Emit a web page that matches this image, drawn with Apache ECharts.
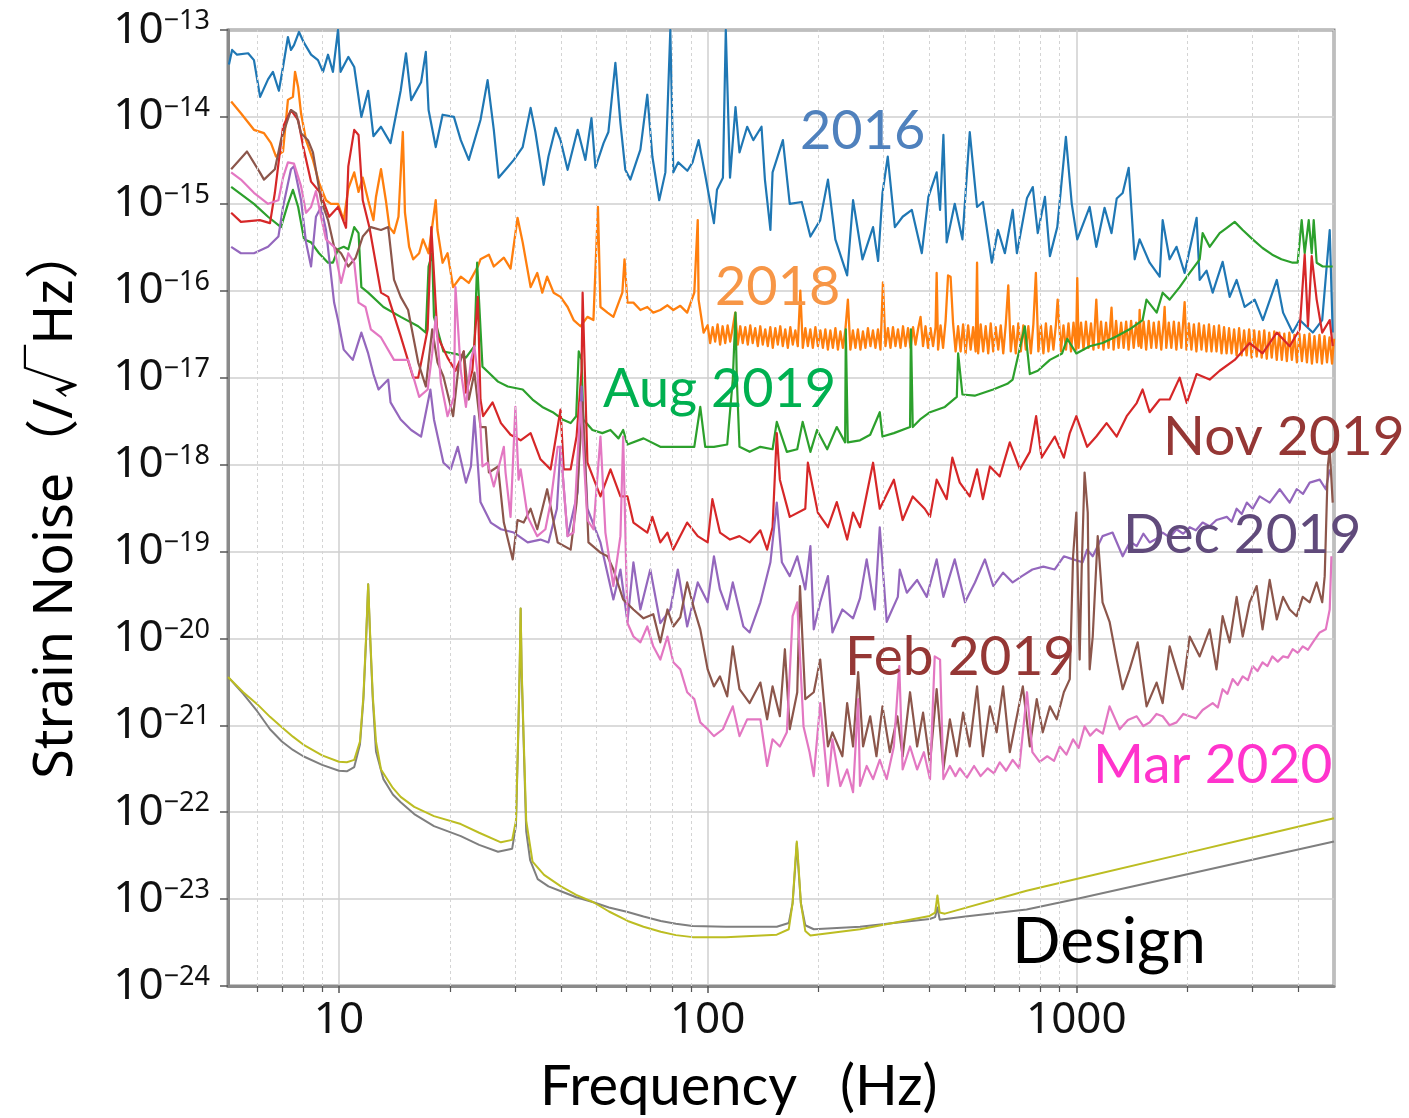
<!DOCTYPE html>
<html><head><meta charset="utf-8">
<script src="https://cdn.jsdelivr.net/npm/echarts/dist/echarts.min.js"></script>
<style>html,body{margin:0;padding:0;background:#fff}#c{width:1409px;height:1118px}</style>
</head><body><div id="c"></div>
<script>
// ---------- data (frequency Hz, strain 1/sqrt(Hz)) ----------
const xTickLabels = [10, 100, 1000];
const yTickValues = [1e-24, 1e-23, 1e-22, 1e-21, 1e-20, 1e-19, 1e-18, 1e-17, 1e-16, 1e-15, 1e-14, 1e-13];
const minorFreqs = [6,7,8,9,20,30,40,50,60,70,80,90,200,300,400,500,600,700,800,900,2000,3000,4000];

const s2016 = [[5.03,4.0e-14],[5.13,5.9e-14],[5.29,5.2e-14],[5.67,5.4e-14],[5.88,4.5e-14],[6.11,1.7e-14],[6.42,2.7e-14],[6.62,3.3e-14],[6.87,2.0e-14],[7.05,3.75e-14],[7.27,8.3e-14],[7.41,5.9e-14],[7.55,6.7e-14],[7.79,9.5e-14],[8.04,7.1e-14],[8.40,5.2e-14],[8.77,4.5e-14],[9.05,3.3e-14],[9.34,5.2e-14],[9.63,3.3e-14],[9.94,1.0e-13],[10.1,3.3e-14],[10.6,4.9e-14],[11.0,3.75e-14],[11.5,1.0e-14],[12.0,2.0e-14],[12.4,6.0e-15],[13.0,7.7e-15],[13.8,5.0e-15],[14.7,2.0e-14],[15.2,5.4e-14],[15.7,1.56e-14],[16.7,2.5e-14],[17.2,5.6e-14],[17.5,1.2e-14],[18.3,4.5e-15],[19.1,1.06e-14],[20.5,1.0e-14],[21.4,5.4e-15],[22.5,3.2e-15],[24.2,9.2e-15],[25.3,2.65e-14],[26.3,7.1e-15],[27.1,2.0e-15],[28.6,2.6e-15],[29.8,3.2e-15],[31.5,4.5e-15],[33.1,1.27e-14],[34.1,6.7e-15],[35.9,1.65e-15],[37.0,3.5e-15],[38.7,7.5e-15],[39.9,5.4e-15],[41.7,2.46e-15],[44.4,7.1e-15],[46.6,3.2e-15],[48.4,9.7e-15],[49.6,2.6e-15],[52.2,5.0e-15],[53.8,6.7e-15],[56.2,4.2e-14],[58.0,8.5e-15],[59.8,2.46e-15],[61.7,1.9e-15],[65.7,4.2e-15],[68.6,1.8e-14],[70.8,3.5e-15],[73.9,1.1e-15],[76.8,2.3e-15],[79.2,1.0e-13],[80.7,2.3e-15],[83.2,3.0e-15],[88.1,2.4e-15],[91,3.0e-15],[94.5,5.4e-15],[98.5,2.15e-15],[104,6.0e-16],[106,1.45e-15],[110,2.0e-15],[112,1.0e-13],[115,2.0e-15],[119,1.3e-14],[122,3.9e-15],[128,7.7e-15],[133,5.4e-15],[140,7.7e-15],[143,1.9e-15],[148,5.0e-16],[150,2.3e-15],[160,5.4e-15],[167,1.0e-15],[180,1.05e-15],[190,4.2e-16],[202,6.5e-16],[212,1.9e-15],[222,3.9e-16],[239,1.5e-16],[248,1.1e-15],[263,2.3e-16],[281,5.4e-16],[290,2.2e-16],[298,1.33e-15],[308,3.5e-15],[322,5.4e-16],[338,7.1e-16],[358,8.5e-16],[381,2.7e-16],[397,1.2e-15],[418,2.3e-15],[427,8.5e-16],[436,6.2e-15],[445,3.6e-16],[468,1.0e-15],[491,3.9e-16],[514,6.7e-15],[538,9.2e-16],[558,1.05e-15],[590,2.1e-16],[613,5.0e-16],[640,2.7e-16],[672,8.5e-16],[690,2.7e-16],[735,1.17e-15],[762,1.56e-15],[786,4.6e-16],[822,1.2e-15],[848,2.5e-16],[888,5.4e-16],[937,5.9e-15],[972,1.0e-15],[1006,3.9e-16],[1087,9.2e-16],[1133,3.2e-16],[1193,9.0e-16],[1246,4.6e-16],[1287,1.15e-15],[1336,1.33e-15],[1387,2.6e-15],[1440,2.3e-16],[1485,3.9e-16],[1581,2.1e-16],[1683,1.45e-16],[1715,6.5e-16],[1791,2.3e-16],[1870,3.2e-16],[1967,1.6e-16],[2120,6.9e-16],[2161,1.33e-16],[2256,1.7e-16],[2344,9.5e-17],[2494,2.15e-16],[2606,8.5e-17],[2722,1.33e-16],[2862,6.5e-17],[3047,7.9e-17],[3207,4.6e-17],[3498,1.33e-16],[3638,5.6e-17],[3862,3.3e-17],[4036,4.6e-17],[4380,3.3e-17],[4645,4.6e-17],[4868,5.0e-16],[4960,3.3e-17]];

const s2018Low = [[5.1,1.5e-14],[5.42,1.1e-14],[5.88,7.1e-15],[6.26,6.5e-15],[6.54,5.0e-15],[6.75,3.5e-15],[7.05,4.0e-15],[7.27,1.57e-14],[7.5,1.7e-14],[7.6,3.3e-14],[7.75,2.2e-14],[7.89,1.1e-14],[8.14,5.4e-15],[8.5,3.2e-15],[8.83,1.74e-15],[9.22,1.1e-15],[9.51,1.0e-15],[9.94,1.0e-15],[10.3,6.5e-16],[10.6,1.5e-15],[11.0,2.3e-15],[11.3,1.37e-15],[11.6,2.0e-15],[12.0,1.1e-15],[12.4,6.5e-16],[12.6,1.2e-15],[13.0,2.5e-15],[13.4,1.1e-15],[13.7,5.4e-16],[14.1,4.6e-16],[14.5,7.1e-16],[14.9,6.7e-15],[15.1,7.9e-16],[15.5,3.2e-16],[15.9,2.3e-16],[16.5,2.7e-16],[16.9,3.9e-16],[17.5,2.7e-16],[18.3,1.1e-15],[18.5,5.0e-16],[19.1,2.1e-16],[19.7,2.7e-16],[20.4,1.1e-16],[21.4,1.45e-16],[22.5,1.23e-16],[23.8,1.9e-16],[24.2,2.3e-16],[25.5,2.6e-16],[26.3,1.9e-16],[28,2.4e-16],[29.2,1.8e-16],[30.5,6.9e-16],[31.5,3.6e-16],[33.1,1.1e-16],[34.5,1.6e-16],[35.6,9.5e-17],[36.7,1.45e-16],[38.2,9.5e-17],[39.9,8.5e-17],[41.7,6.5e-17],[43.3,4.6e-17],[45.2,3.9e-17],[47.2,5.0e-17],[49,4.6e-17],[50.4,9.2e-16],[51.2,6.5e-17],[53.5,5.6e-17],[55.5,5.0e-17],[58.7,9.5e-17],[59.5,2.3e-16],[60.6,7.3e-17],[62.9,7.3e-17],[65.7,6.0e-17],[68.6,6.5e-17],[71.2,5.6e-17],[74.4,6.0e-17],[77.8,6.8e-17],[80.7,6.0e-17],[84.3,6.7e-17],[88,5.6e-17],[92,9.5e-17],[94,6.5e-16],[94.5,7.9e-17],[97.5,3.3e-17]];

const s2018High = [[100,4.0e-17],[101.6,2.5e-17],[103.2,3.8e-17],[104.8,2.6e-17],[106.4,4.1e-17],[108.1,2.4e-17],[109.8,3.9e-17],[111.6,2.5e-17],[113.3,4.0e-17],[115.1,2.6e-17],[116.9,3.7e-17],[118.8,5.6e-17],[120.7,2.4e-17],[122.6,3.9e-17],[124.5,2.5e-17],[126.5,3.8e-17],[128.5,2.4e-17],[130.5,4.0e-17],[132.5,2.5e-17],[134.6,3.7e-17],[136.8,2.3e-17],[138.9,3.9e-17],[141.1,2.4e-17],[143.3,3.6e-17],[145.6,2.3e-17],[147.9,3.8e-17],[150.2,2.2e-17],[152.6,3.7e-17],[155.0,2.4e-17],[157.4,3.9e-17],[159.9,2.3e-17],[162.4,3.6e-17],[165.0,2.2e-17],[167.6,3.8e-17],[170.2,2.4e-17],[172.9,3.5e-17],[175.6,2.3e-17],[178.4,1.0e-16],[181.2,2.2e-17],[184.1,3.7e-17],[187.0,2.3e-17],[189.9,3.6e-17],[192.9,2.2e-17],[196.0,3.8e-17],[199.1,2.3e-17],[202.2,3.5e-17],[205.4,2.2e-17],[208.6,3.6e-17],[211.9,2.1e-17],[215.2,3.5e-17],[218.6,2.2e-17],[222.1,3.7e-17],[225.6,2.1e-17],[229.1,3.4e-17],[232.7,2.2e-17],[236.4,3.6e-17],[240.1,7.9e-17],[243.9,2.1e-17],[247.8,3.5e-17],[251.7,2.2e-17],[255.6,3.6e-17],[259.7,2.1e-17],[263.8,3.4e-17],[267.9,2.2e-17],[272.1,3.7e-17],[276.4,2.3e-17],[280.8,3.5e-17],[285.2,2.2e-17],[289.7,3.6e-17],[294.3,2.1e-17],[298.9,1.25e-16],[303.6,2.3e-17],[308.4,3.7e-17],[313.3,2.2e-17],[318.2,3.8e-17],[323.2,2.3e-17],[328.3,3.6e-17],[333.5,2.2e-17],[338.8,3.9e-17],[344.1,2.3e-17],[349.5,3.7e-17],[355.1,2.2e-17],[360.7,3.8e-17],[366.3,2.4e-17],[372.1,3.6e-17],[378.0,5.0e-17],[383.9,2.3e-17],[390.0,3.9e-17],[396.1,2.2e-17],[402.4,3.7e-17],[408.7,2.3e-17],[415.2,3.8e-17],[418,1.6e-16],[421.7,2.1e-17],[428.3,4.0e-17],[435.1,2.2e-17],[442.0,4.5e-17],[448.9,1.5e-16],[456.0,1.45e-16],[463.2,4.2e-17],[470.5,2.0e-17],[477.9,3.9e-17],[485.5,2.0e-17],[493.1,4.1e-17],[500.9,1.9e-17],[508.8,4.0e-17],[516.9,2.1e-17],[525.0,3.8e-17],[533.3,2.0e-17],[538,2.1e-16],[541.7,1.9e-17],[550.3,4.1e-17],[559.0,2.0e-17],[567.8,3.9e-17],[576.8,1.9e-17],[585.9,4.2e-17],[595.1,2.0e-17],[604.5,3.8e-17],[614.1,2.1e-17],[623.8,4.0e-17],[633.6,1.9e-17],[643.6,4.1e-17],[653.8,1.15e-16],[664.1,2.0e-17],[674.6,3.9e-17],[685.3,1.9e-17],[696.1,4.2e-17],[707.1,2.0e-17],[718.2,4.0e-17],[729.6,2.1e-17],[741.1,3.9e-17],[752.8,1.9e-17],[764.7,4.1e-17],[776.8,1.6e-16],[789.0,2.0e-17],[801.5,4.0e-17],[814.2,1.9e-17],[827.0,4.2e-17],[840.1,2.0e-17],[853.4,3.9e-17],[866.8,2.1e-17],[880.5,4.1e-17],[890,7.9e-17],[908.5,2.0e-17],[922.9,4.0e-17],[937.5,2.1e-17],[952.3,4.2e-17],[967.3,2.0e-17],[982.6,4.3e-17],[998.1,2.1e-17],[1006,1.4e-16],[1014,2.2e-17],[1030,4.3e-17],[1046,2.1e-17],[1062,4.4e-17],[1079,2.2e-17],[1096,4.2e-17],[1113,2.1e-17],[1133,7.9e-17],[1149,2.2e-17],[1167,4.4e-17],[1185,2.1e-17],[1204,4.3e-17],[1223,2.2e-17],[1246,6.4e-17],[1262,2.1e-17],[1282,4.5e-17],[1302,2.2e-17],[1323,4.3e-17],[1344,2.2e-17],[1365,4.4e-17],[1386,2.1e-17],[1408,4.5e-17],[1431,2.2e-17],[1453,4.3e-17],[1476,2.3e-17],[1485,6.0e-17],[1500,2.2e-17],[1523,4.4e-17],[1547,2.1e-17],[1572,4.5e-17],[1597,2.2e-17],[1622,4.3e-17],[1648,2.2e-17],[1674,4.4e-17],[1700,2.1e-17],[1727,4.5e-17],[1736,6.5e-17],[1754,2.2e-17],[1782,4.3e-17],[1810,2.2e-17],[1839,4.4e-17],[1868,2.1e-17],[1897,4.3e-17],[1927,2.2e-17],[1967,7.4e-17],[1989,2.1e-17],[2020,4.2e-17],[2052,2.1e-17],[2084,4.1e-17],[2117,2.0e-17],[2151,4.2e-17],[2185,2.1e-17],[2219,4.0e-17],[2254,2.0e-17],[2290,4.1e-17],[2326,2.0e-17],[2363,3.9e-17],[2400,2.0e-17],[2438,4.0e-17],[2477,1.9e-17],[2516,3.8e-17],[2556,1.9e-17],[2596,3.7e-17],[2637,1.9e-17],[2679,3.6e-17],[2721,1.8e-17],[2764,3.7e-17],[2808,1.8e-17],[2852,3.5e-17],[2897,1.8e-17],[2943,3.6e-17],[2990,1.7e-17],[3037,3.5e-17],[3085,1.75e-17],[3134,3.4e-17],[3183,1.7e-17],[3234,3.5e-17],[3285,1.65e-17],[3337,3.3e-17],[3389,1.7e-17],[3443,3.4e-17],[3497,1.6e-17],[3553,3.3e-17],[3609,1.6e-17],[3666,3.2e-17],[3724,1.55e-17],[3783,3.3e-17],[3843,1.6e-17],[3904,3.1e-17],[3965,1.5e-17],[4028,3.2e-17],[4092,1.55e-17],[4156,3.1e-17],[4222,1.5e-17],[4289,3.2e-17],[4356,1.45e-17],[4425,3.0e-17],[4495,1.5e-17],[4566,3.1e-17],[4638,1.45e-17],[4712,3.0e-17],[4786,1.5e-17],[4862,2.9e-17],[4939,1.45e-17],[5000,2.8e-17]];

const aug2019 = [[5.1,1.57e-15],[5.88,1.0e-15],[6.42,7.1e-16],[6.96,5.4e-16],[7.27,1.0e-15],[7.5,1.45e-15],[7.75,9.2e-16],[8.04,3.9e-16],[8.4,3.6e-16],[8.83,2.7e-16],[9.34,2.1e-16],[9.63,2.1e-16],[9.94,3.0e-16],[10.3,3.2e-16],[10.6,3.0e-16],[11.0,5.4e-16],[11.3,4.6e-16],[11.5,1.1e-16],[12.0,9.5e-17],[13.2,6.5e-17],[14.7,5.0e-17],[16.4,3.9e-17],[17.2,3.3e-17],[17.5,1.9e-16],[17.9,2.7e-16],[18.1,5.0e-17],[19.2,2.0e-17],[21,1.85e-17],[22.1,1.7e-17],[23.3,2.3e-17],[23.7,2.1e-16],[24,7.3e-17],[24.5,1.34e-17],[25.5,1.14e-17],[27,9.0e-18],[28.7,7.9e-18],[31.5,7.3e-18],[33.5,5.6e-18],[35.6,4.6e-18],[38,4.0e-18],[40.4,3.3e-18],[42.5,3.0e-18],[44,3.6e-18],[44.7,2.0e-17],[45.5,1.6e-17],[46,3.3e-18],[48.7,2.5e-18],[51.8,2.3e-18],[54.5,2.5e-18],[57.3,2.0e-18],[59,2.5e-18],[60.6,1.7e-18],[67,2.0e-18],[74.4,1.6e-18],[83,1.6e-18],[92,1.6e-18],[95.5,4.6e-18],[98.5,1.6e-18],[104,1.6e-18],[113,1.7e-18],[117,9.5e-18],[119,5.6e-17],[120,9.5e-18],[122,1.6e-18],[130,1.4e-18],[139,1.6e-18],[150,1.5e-18],[154,3.1e-18],[164,1.4e-18],[175,1.5e-18],[181,3.1e-18],[190,1.4e-18],[198,2.5e-18],[211,1.5e-18],[224,2.7e-18],[236,1.8e-18],[237,3.6e-17],[240,1.8e-18],[259,1.9e-18],[276,2.2e-18],[293,4.0e-18],[298,2.1e-18],[320,2.3e-18],[354,2.7e-18],[356,3.6e-17],[360,2.7e-18],[377,3.3e-18],[401,4.0e-18],[440,4.6e-18],[474,6.0e-18],[478,1.9e-17],[491,6.4e-18],[530,6.2e-18],[595,7.3e-18],[650,8.5e-18],[672,9.5e-18],[725,3.9e-17],[748,1.1e-17],[786,1.2e-17],[848,1.6e-17],[915,1.9e-17],[945,2.8e-17],[1000,1.9e-17],[1087,2.3e-17],[1178,2.5e-17],[1287,3.0e-17],[1395,3.6e-17],[1513,4.6e-17],[1550,7.9e-17],[1652,5.6e-17],[1715,9.5e-17],[1791,7.9e-17],[1907,1.1e-16],[2030,1.6e-16],[2161,2.3e-16],[2201,4.6e-16],[2300,3.2e-16],[2448,4.6e-16],[2560,5.3e-16],[2689,6.2e-16],[2827,5.0e-16],[3009,3.9e-16],[3200,3.1e-16],[3400,2.6e-16],[3600,2.3e-16],[3863,2.1e-16],[3985,2.1e-16],[4086,6.5e-16],[4164,2.7e-16],[4270,6.5e-16],[4350,2.7e-16],[4405,6.5e-16],[4487,2.1e-16],[4660,1.9e-16],[4960,1.9e-16]];

const nov2019 = [[5.1,7.9e-16],[5.42,6.2e-16],[6.1,6.5e-16],[6.5,6.0e-16],[6.7,1.34e-15],[7.05,7.7e-15],[7.41,1.2e-14],[7.75,9.2e-15],[8.0,4.5e-15],[8.4,1.8e-15],[8.9,1.34e-15],[9.4,7.1e-16],[9.94,9.2e-16],[10.45,5.3e-16],[10.6,2.7e-15],[11.0,7.1e-15],[11.3,6.2e-15],[11.6,1.1e-15],[12.1,5.3e-16],[13.0,9.5e-17],[13.6,8.5e-17],[14.7,3.0e-17],[15.9,1.0e-17],[16.4,1.0e-17],[17.4,3.6e-17],[17.8,5.4e-16],[18.5,3.0e-17],[19.7,1.7e-17],[20.7,1.2e-17],[21.8,2.0e-17],[22.1,6.7e-18],[23,1.2e-17],[23.8,8.5e-17],[24.2,5.6e-18],[24.6,3.6e-18],[26.1,5.2e-18],[27.5,3.0e-18],[29.2,2.2e-18],[31.1,1.9e-18],[33.1,2.3e-18],[35.2,1.15e-18],[37.5,8.8e-19],[39.9,4.3e-18],[40.7,8.8e-19],[42.5,8.8e-19],[44.1,2.1e-18],[45.5,1.2e-17],[45.8,9.5e-17],[47.2,1.05e-18],[51.2,4.3e-19],[54.5,8.8e-19],[58,4.3e-19],[60.6,4.3e-19],[62.9,2.15e-19],[68.6,1.65e-19],[70.8,2.5e-19],[74.4,1.27e-19],[77.8,1.65e-19],[80.7,1.05e-19],[88,2.15e-19],[94,1.5e-19],[100,1.27e-19],[103,4.0e-19],[108,1.65e-19],[115,1.37e-19],[122,1.5e-19],[130,1.27e-19],[139,1.75e-19],[145,1.05e-19],[150,1.9e-19],[154,2.3e-18],[157,6.7e-19],[167,2.5e-19],[184,3.1e-19],[187,1.05e-18],[199,2.8e-19],[212,1.9e-19],[224,3.7e-19],[239,1.37e-19],[248,2.8e-19],[259,1.9e-19],[281,1.05e-18],[293,3.1e-19],[320,6.7e-19],[338,2.3e-19],[360,4.3e-19],[388,3.1e-19],[401,2.5e-19],[418,6.7e-19],[445,4.0e-19],[461,1.2e-18],[483,6.2e-19],[514,4.3e-19],[538,8.8e-19],[558,4.0e-19],[583,9.5e-19],[620,7.3e-19],[660,1.8e-18],[703,8.8e-19],[748,1.4e-18],[778,3.6e-18],[805,1.2e-18],[874,2.1e-18],[925,1.2e-18],[960,2.3e-18],[1000,3.6e-18],[1070,1.6e-18],[1133,2.1e-18],[1208,3.0e-18],[1287,2.1e-18],[1370,3.6e-18],[1458,5.1e-18],[1513,7.3e-18],[1581,4.0e-18],[1683,5.6e-18],[1791,5.6e-18],[1907,1.0e-17],[1993,5.1e-18],[2120,1.1e-17],[2300,9.5e-18],[2448,1.2e-17],[2689,1.6e-17],[2953,2.5e-17],[3200,1.9e-17],[3498,3.3e-17],[3791,2.3e-17],[4036,3.6e-17],[4164,2.6e-16],[4250,3.9e-17],[4350,2.5e-16],[4487,7.9e-17],[4645,3.3e-17],[4868,4.6e-17],[4960,2.3e-17]];

const dec2019 = [[5.1,3.2e-16],[5.42,2.7e-16],[5.88,2.7e-16],[6.42,3.2e-16],[6.85,4.2e-16],[7.05,9.2e-16],[7.41,2.5e-15],[7.55,2.7e-15],[7.89,1.1e-15],[8.14,3.6e-16],[8.4,1.9e-16],[8.66,7.1e-16],[8.94,9.2e-16],[9.22,5.0e-16],[9.7,7.3e-17],[9.94,4.6e-17],[10.3,2.1e-17],[10.9,1.6e-17],[11.5,3.3e-17],[12.0,1.9e-17],[12.4,1.1e-17],[12.8,7.3e-18],[13.6,9.5e-18],[13.8,5.2e-18],[14.7,3.3e-18],[15.7,2.5e-18],[16.7,2.1e-18],[17.7,7.3e-18],[18.1,3.3e-18],[19.2,1.05e-18],[20.1,8.8e-19],[21,1.6e-18],[22.1,6.2e-19],[22.8,9.5e-19],[23.3,3.6e-18],[24.2,3.7e-19],[25.8,2.15e-19],[27.5,1.8e-19],[29.8,1.65e-19],[32.5,1.27e-19],[35.2,1.37e-19],[37,1.27e-19],[39,3.1e-19],[39.9,1.6e-18],[41.7,1.5e-19],[44.4,4.8e-19],[45.5,7.9e-18],[47.2,3.1e-19],[51.2,1.27e-19],[55.5,2.8e-20],[58,6.2e-20],[60.6,1.55e-20],[62.9,7.5e-20],[65.7,2.15e-20],[69.9,6.2e-20],[74.4,1.5e-20],[79.2,2.15e-20],[83,6.2e-20],[88,1.37e-20],[94,4.4e-20],[100,2.6e-20],[104,8.8e-20],[108,3.65e-20],[113,2.15e-20],[117,4.4e-20],[125,1.37e-20],[130,1.17e-20],[139,2.6e-20],[148,7.5e-20],[154,3.65e-19],[159,7.5e-20],[167,5.2e-20],[175,8.8e-20],[184,3.65e-20],[190,1.15e-19],[194,1.27e-20],[202,2.6e-20],[212,5.2e-20],[218,1.17e-20],[232,2.15e-20],[248,1.7e-20],[259,2.9e-20],[270,8.1e-20],[284,2.15e-20],[293,1.9e-19],[306,1.55e-20],[328,3.0e-20],[332,6.2e-20],[347,3.35e-20],[370,4.7e-20],[393,3.0e-20],[418,8.1e-20],[436,3.0e-20],[468,8.1e-20],[499,2.6e-20],[531,4.4e-20],[565,8.1e-20],[595,4.0e-20],[633,5.7e-20],[672,4.4e-20],[712,5.2e-20],[760,6.2e-20],[814,6.7e-20],[874,6.2e-20],[925,8.8e-20],[980,8.1e-20],[1040,7.5e-20],[1070,1.05e-19],[1108,8.8e-20],[1178,1.5e-19],[1254,1.65e-19],[1336,8.8e-20],[1400,1.3e-19],[1458,1.15e-19],[1520,1.6e-19],[1581,1.27e-19],[1650,1.4e-19],[1715,1.65e-19],[1790,1.45e-19],[1870,1.8e-19],[1950,1.6e-19],[2030,1.9e-19],[2110,1.75e-19],[2201,2.15e-19],[2300,1.95e-19],[2400,2.3e-19],[2560,2.5e-19],[2640,2.2e-19],[2722,3.1e-19],[2810,2.7e-19],[2900,3.65e-19],[3010,3.1e-19],[3143,4.3e-19],[3346,3.65e-19],[3562,5.2e-19],[3791,3.65e-19],[3960,5.2e-19],[4120,4.6e-19],[4296,6.2e-19],[4573,6.7e-19],[4750,5.2e-19],[4868,8.8e-19]];

const feb2019 = [[5.1,2.5e-15],[5.63,4.0e-15],[6.1,2.3e-15],[6.26,1.9e-15],[6.7,2.5e-15],[6.96,5.4e-15],[7.41,1.2e-14],[7.65,1.1e-14],[7.89,6.5e-15],[8.24,5.4e-15],[8.5,3.9e-15],[8.94,1.1e-15],[9.34,6.5e-16],[9.7,3.2e-16],[10.13,2.7e-16],[10.6,1.9e-16],[11.1,2.4e-16],[11.6,4.2e-16],[12.2,5.4e-16],[13.0,5.0e-16],[13.6,5.4e-16],[14.1,1.34e-16],[14.7,8.5e-17],[15.4,6.0e-17],[16.4,1.5e-17],[17.2,7.9e-18],[17.9,3.6e-17],[18.5,1.5e-17],[19.2,1.03e-17],[20.4,3.6e-18],[21.1,1.34e-17],[21.8,2.0e-17],[22.5,5.6e-18],[23.3,1.14e-17],[24.2,2.7e-18],[25.0,2.7e-18],[25.5,8.1e-19],[27,9.5e-19],[28,2.15e-19],[29.6,8.1e-20],[30.5,2.3e-19],[31.7,2.15e-19],[33.1,3.1e-19],[34.5,1.8e-19],[36.7,5.2e-19],[39.2,1.27e-19],[42.5,1.05e-19],[44.1,3.65e-19],[45.8,5.2e-18],[47.5,1.27e-19],[51.2,9.7e-20],[53.5,8.8e-20],[55.5,6.2e-20],[59,2.8e-20],[62.9,2.15e-20],[67,1.7e-20],[71.2,1.9e-20],[74.4,9.0e-21],[77.8,2.15e-20],[80.7,1.37e-20],[84.3,1.75e-20],[88,4.4e-20],[92,2.15e-20],[95.5,1.27e-20],[100,4.4e-21],[104,2.8e-21],[108,3.65e-21],[113,2.15e-21],[117,8.1e-21],[122,2.6e-21],[130,1.8e-21],[139,3.1e-21],[145,1.17e-21],[150,2.8e-21],[157,1.27e-21],[162,7.5e-21],[167,9.0e-22],[175,2.4e-21],[178,4.0e-20],[184,2.0e-21],[194,2.4e-21],[202,5.7e-21],[212,5.7e-22],[218,8.3e-22],[232,4.4e-22],[239,1.8e-21],[248,5.7e-22],[256,4.1e-21],[264,5.7e-22],[276,1.27e-21],[287,4.4e-22],[298,1.65e-21],[312,4.9e-22],[327,1.27e-21],[338,4.4e-22],[354,2.4e-21],[370,5.7e-22],[384,1.4e-21],[401,3.65e-22],[418,2.6e-21],[436,3.1e-22],[454,1.17e-21],[474,4.4e-22],[493,1.4e-21],[514,5.7e-22],[538,2.8e-21],[558,4.4e-22],[583,1.65e-21],[608,8.3e-22],[633,2.8e-21],[660,4.9e-22],[690,1.27e-21],[716,2.8e-21],[748,5.7e-22],[781,2.0e-21],[811,8.3e-22],[848,1.65e-21],[885,1.17e-21],[925,2.4e-21],[960,3.4e-21],[980,8.8e-20],[1000,2.8e-19],[1021,5.7e-21],[1034,6.2e-20],[1053,8.1e-19],[1074,2.8e-19],[1087,4.4e-21],[1108,1.05e-20],[1143,1.5e-19],[1178,2.6e-20],[1231,1.55e-20],[1287,5.7e-21],[1336,2.6e-21],[1395,4.4e-21],[1467,9.0e-21],[1551,1.65e-21],[1651,3.1e-21],[1715,1.8e-21],[1791,8.1e-21],[1870,4.4e-21],[1943,2.6e-21],[2030,1.05e-20],[2161,6.2e-21],[2300,1.27e-20],[2400,4.4e-21],[2494,1.8e-20],[2606,9.0e-21],[2722,3.0e-20],[2827,1.05e-20],[2953,2.6e-20],[3085,4.0e-20],[3200,1.27e-20],[3346,4.7e-20],[3498,1.65e-20],[3638,3.0e-20],[3791,2.15e-20],[3960,1.8e-20],[4113,3.0e-20],[4296,2.6e-20],[4487,4.4e-20],[4645,2.6e-20],[4718,5.2e-20],[4810,9.5e-19],[4868,1.5e-18],[4960,3.65e-19]];

const mar2020 = [[5.1,2.3e-15],[5.42,1.9e-15],[5.88,1.34e-15],[6.42,1.0e-15],[6.85,1.1e-15],[7.05,2.0e-15],[7.27,3.0e-15],[7.55,2.9e-15],[7.89,1.6e-15],[8.14,7.9e-16],[8.4,9.2e-16],[8.66,1.4e-15],[8.94,7.1e-16],[9.22,3.9e-16],[9.7,3.2e-16],[10.13,1.23e-16],[10.6,2.7e-16],[11.0,2.1e-16],[11.3,7.3e-17],[11.8,6.5e-17],[12.2,3.6e-17],[13.0,2.9e-17],[14.1,1.6e-17],[15.4,1.6e-17],[15.9,1.03e-17],[16.5,6.0e-18],[17.4,7.3e-18],[17.9,1.9e-17],[18.3,5.0e-17],[18.9,8.8e-18],[19.7,3.6e-18],[20.5,6.0e-18],[20.7,1.1e-16],[21.4,1.2e-17],[22.1,4.6e-18],[22.8,1.6e-17],[23.3,2.3e-17],[23.8,1.03e-17],[24.5,9.5e-19],[25.3,1.05e-18],[26.3,5.6e-19],[28,1.6e-18],[28.3,8.1e-19],[29.2,2.5e-19],[30.1,4.6e-18],[30.7,6.7e-19],[31.1,8.8e-19],[32.5,2.5e-19],[34.5,1.5e-19],[36.3,1.8e-19],[37.5,3.65e-19],[39.2,1.6e-18],[39.9,1.6e-18],[41.7,1.5e-19],[43.3,1.65e-19],[45.2,5.2e-18],[47.2,2.3e-19],[49,1.8e-19],[51.2,2.1e-18],[52.8,1.65e-19],[55.5,4.0e-20],[58,1.5e-19],[59,2.1e-18],[60.6,1.5e-20],[62.9,1.05e-20],[65.7,9.0e-21],[68.6,1.37e-20],[71.2,8.1e-21],[74.4,5.7e-21],[77.8,1.05e-20],[80.7,5.3e-21],[84.3,4.4e-21],[88,2.4e-21],[92,2.0e-21],[95.5,1.08e-21],[100,9.0e-22],[104,7.5e-22],[110,9.0e-22],[117,1.65e-21],[122,7.5e-22],[128,1.17e-21],[139,1.17e-21],[145,3.4e-22],[150,6.9e-22],[157,5.7e-22],[164,8.3e-22],[170,1.8e-20],[175,2.6e-20],[182,9.7e-22],[189,4.9e-22],[194,2.6e-22],[202,1.8e-21],[212,2.0e-22],[218,6.9e-22],[229,2.0e-22],[239,3.1e-22],[248,1.7e-22],[256,2.0e-21],[259,2.0e-22],[270,3.4e-22],[281,2.4e-22],[293,4.0e-22],[306,2.4e-22],[320,5.7e-22],[331,4.8e-21],[338,3.1e-22],[354,5.7e-22],[370,3.1e-22],[386,4.9e-22],[401,2.4e-22],[413,6.2e-21],[427,5.7e-21],[436,2.4e-22],[454,3.4e-22],[470,2.6e-22],[483,3.2e-22],[505,2.5e-22],[528,3.4e-22],[550,2.6e-22],[575,3.2e-22],[598,2.8e-22],[620,3.75e-22],[645,3.0e-22],[672,4.0e-22],[700,3.2e-22],[735,2.4e-21],[760,4.9e-22],[795,3.8e-22],[834,4.4e-22],[870,3.9e-22],[902,5.7e-22],[940,4.6e-22],[980,6.9e-22],[1015,5.5e-22],[1053,9.7e-22],[1090,7.6e-22],[1133,9.0e-22],[1180,8.0e-22],[1231,1.65e-21],[1311,9.0e-22],[1380,1.15e-21],[1458,1.27e-21],[1520,9.8e-22],[1581,1.08e-21],[1650,1.35e-21],[1715,1.27e-21],[1790,1.0e-21],[1870,1.08e-21],[1950,1.35e-21],[2030,1.27e-21],[2110,1.2e-21],[2201,1.5e-21],[2344,1.8e-21],[2420,1.6e-21],[2494,2.6e-21],[2570,2.3e-21],[2655,3.4e-21],[2740,2.9e-21],[2827,3.65e-21],[2920,3.3e-21],[3009,4.8e-21],[3100,4.2e-21],[3200,5.3e-21],[3300,4.8e-21],[3400,6.2e-21],[3520,5.4e-21],[3638,6.2e-21],[3750,6.0e-21],[3862,7.5e-21],[3990,6.8e-21],[4113,8.1e-21],[4250,7.4e-21],[4380,9.0e-21],[4573,1.17e-20],[4750,1.27e-20],[4868,2.15e-20],[4920,8.8e-20]];

const designGray = [[5,3.6e-21],[5.5,2.3e-21],[6,1.45e-21],[6.5,9.0e-22],[7,6.5e-22],[7.5,5.2e-22],[8,4.4e-22],[9,3.5e-22],[10,3.0e-22],[10.5,2.95e-22],[11,3.3e-22],[11.4,6.0e-22],[11.65,2.0e-21],[11.85,1.0e-20],[12.0,4.2e-20],[12.15,1.0e-20],[12.35,2.0e-21],[12.6,5.0e-22],[13.2,2.4e-22],[14.0,1.6e-22],[14.7,1.3e-22],[16,9.5e-23],[18.1,6.9e-23],[21.4,5.3e-23],[24,4.2e-23],[27,3.5e-23],[29.5,3.8e-23],[30.2,7e-23],[30.6,6e-22],[30.9,4e-21],[31.1,2.2e-20],[31.3,4e-21],[31.7,6e-22],[32.2,6e-23],[33,2.8e-23],[34.6,1.7e-23],[37,1.4e-23],[40,1.23e-23],[44,1.05e-23],[49,9.2e-24],[54,8.0e-24],[60.7,7.1e-24],[67,6.3e-24],[74.6,5.6e-24],[82,5.2e-24],[91,4.9e-24],[112,4.8e-24],[154,4.8e-24],[166,5.3e-24],[170,9e-24],[173,2.5e-23],[174.5,4.4e-23],[176,2.5e-23],[179,9e-24],[184,5e-24],[194,4.5e-24],[259,4.8e-24],[400,5.9e-24],[414,6.2e-24],[420,8e-24],[426,5.8e-24],[500,6.3e-24],[733,7.6e-24],[1000,1.0e-23],[2000,1.93e-23],[3000,2.83e-23],[5000,4.6e-23]];

const designOlive = [[5,3.6e-21],[5.5,2.4e-21],[6,1.75e-21],[6.5,1.25e-21],[7,9.5e-22],[7.5,7.4e-22],[8,6.0e-22],[9,4.5e-22],[10,3.8e-22],[10.5,3.75e-22],[11,4.0e-22],[11.4,6.5e-22],[11.65,2.2e-21],[11.85,1.1e-20],[12.0,4.2e-20],[12.15,1.1e-20],[12.35,2.2e-21],[12.6,6.5e-22],[13.0,3.1e-22],[14.0,1.9e-22],[14.7,1.5e-22],[16,1.15e-22],[18.1,9.0e-23],[21.4,7.3e-23],[24,5.8e-23],[27.5,4.5e-23],[29.5,4.8e-23],[30.2,8e-23],[30.6,7e-22],[30.9,4.5e-21],[31.1,2.2e-20],[31.3,4.5e-21],[31.7,7e-22],[32.2,8e-23],[33.5,2.7e-23],[36,1.9e-23],[40,1.4e-23],[44,1.12e-23],[49,9.2e-24],[54,7.2e-24],[60.7,5.6e-24],[67,4.8e-24],[74.6,4.2e-24],[82,3.85e-24],[91,3.65e-24],[112,3.65e-24],[154,3.9e-24],[166,4.5e-24],[170,9e-24],[173,2.8e-23],[174.5,4.6e-23],[176,2.8e-23],[179,9e-24],[184,4.3e-24],[190,3.8e-24],[259,4.5e-24],[400,6.4e-24],[414,7e-24],[420,1.1e-23],[426,7e-24],[440,6.8e-24],[733,1.25e-23],[1000,1.7e-23],[2000,3.4e-23],[3000,5.1e-23],[5000,8.5e-23]];

// ---------- chart ----------
const chart = echarts.init(document.getElementById('c'), null, {renderer: 'canvas'});
const tickFont = '"Noto Sans", sans-serif';
function line(name, data, color, w) {
  return {name, type: 'line', data, showSymbol: false, symbol: 'none', smooth: false,
    lineStyle: {color, width: w || 2.2, join: 'round'}, itemStyle: {color}, silent: true, z: 3};
}
const series = [
  {type: 'line', data: [], silent: true, z: 1,
   markLine: {silent: true, symbol: ['none','none'], animation: false, label: {show: false},
     lineStyle: {type: [3,3], color: '#d4d4d4', width: 1},
     data: minorFreqs.map(f => ({xAxis: f}))}},
  line('2016', s2016, '#1f77b4'),
  line('2018', s2018Low.concat(s2018High), '#ff7f0e', 2.3),
  line('Aug 2019', aug2019, '#2ca02c'),
  line('Nov 2019', nov2019, '#d62728'),
  line('Dec 2019', dec2019, '#9467bd'),
  line('Feb 2019', feb2019, '#8c564b'),
  line('Mar 2020', mar2020, '#e377c2'),
  line('Design A', designGray, '#7f7f7f', 2),
  line('Design B', designOlive, '#bcbd22', 2)
];

function txt(x, y, text, size, color, family) {
  return {type: 'text', x, y, z: 100, silent: true,
    style: {text, font: size + 'px ' + (family || 'Lato'), fill: color, textAlign: 'left', textVerticalAlign: 'middle'}};
}

chart.setOption({
  animation: false,
  backgroundColor: '#fff',
  grid: {left: 228, top: 30, width: 1106, height: 956, show: true, borderColor: '#8a8a8a', borderWidth: 3,
         containLabel: false, outerBoundsMode: 'none'},
  xAxis: [{
    type: 'log', logBase: 10, min: 5, max: 5000, position: 'bottom',
    axisLine: {show: true, onZero: false, lineStyle: {color: '#8a8a8a', width: 3}},
    axisTick: {show: true, inside: false, length: 7, lineStyle: {color: '#555', width: 1.5}},
    axisLabel: {show: true, margin: 12, fontSize: 44, color: '#111', fontFamily: tickFont,
      showMinLabel: false, showMaxLabel: false,
      formatter: v => xTickLabels.some(t => Math.abs(t - v) / t < 1e-6) ? String(Math.round(v)) : ''},
    splitLine: {show: true, lineStyle: {color: '#cfcfcf', width: 1.5}},
    minorTick: {show: false}
  }, {
    type: 'log', logBase: 10, min: 5, max: 5000, position: 'bottom', offset: 0,
    axisLine: {show: false},
    axisTick: {show: true, inside: false, length: 6, customValues: minorFreqs, lineStyle: {color: '#555', width: 1.2}},
    axisLabel: {show: false},
    splitLine: {show: false}
  }],
  yAxis: {
    type: 'log', logBase: 10, min: 9.99999e-25, max: 1.000001e-13, interval: 1,
    axisLine: {show: true, onZero: false, lineStyle: {color: '#8a8a8a', width: 3}},
    axisTick: {show: true, inside: false, length: 8, customValues: yTickValues, lineStyle: {color: '#555', width: 1.5}},
    axisLabel: {show: true, margin: 18, color: '#111', customValues: yTickValues, showMinLabel: true, showMaxLabel: true, hideOverlap: false,
      formatter: v => '{a|10}{b|\u2212' + Math.abs(Math.round(Math.log10(v))) + '}',
      rich: {a: {fontSize: 44, lineHeight: 44, fontFamily: tickFont, color: '#111'},
             b: {fontSize: 27, lineHeight: 27, fontFamily: tickFont, color: '#111', verticalAlign: 'top'}}},
    splitLine: {show: true, lineStyle: {color: '#cfcfcf', width: 1.5}}
  },
  series,
  graphic: [
    txt(800, 132, '2016', 54, '#4f81bd'),
    txt(715, 288, '2018', 54, '#f79646'),
    txt(603, 390, 'Aug 2019', 54, '#00b050'),
    txt(1163, 437, 'Nov 2019', 55, '#953735'),
    txt(1123, 535, 'Dec 2019', 55, '#604a7b'),
    txt(845, 657, 'Feb 2019', 55, '#953735'),
    txt(1093, 765, 'Mar 2020', 55, '#ff33cc'),
    txt(1012, 942, 'Design', 64, '#000'),
    txt(540, 1087, 'Frequency   (Hz)', 56, '#000', 'Lato'),
    {type: 'text', x: 57, y: 502, rotation: Math.PI / 2, z: 100, silent: true,
     style: {text: 'Strain Noise\uFF08/\u221AHz\uFF09', font: '54px "Noto Sans", "Noto Sans CJK JP"', fill: '#000', textAlign: 'center', textVerticalAlign: 'middle'}}
  ]
});
</script>
</body></html>
